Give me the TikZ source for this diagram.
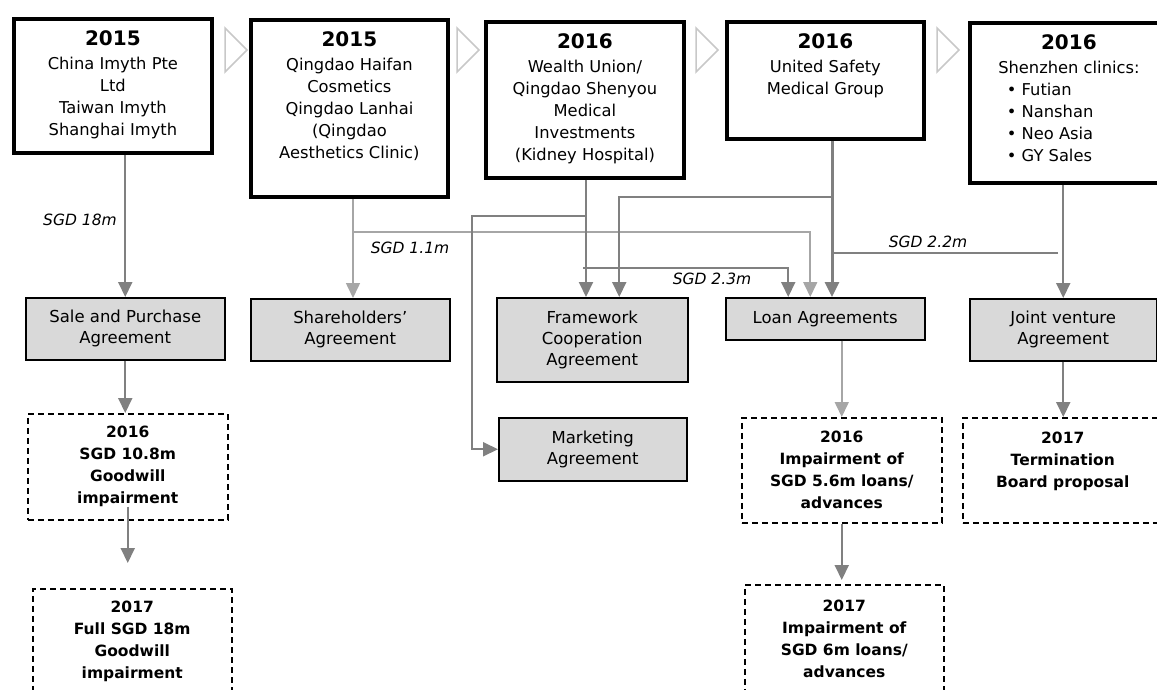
\documentclass[tikz,border=0pt]{standalone}
\usepackage{fontspec}
\setmainfont{DejaVu Sans}
\usetikzlibrary{arrows.meta,positioning}

\definecolor{linegray}{HTML}{808080}
\definecolor{lightline}{HTML}{A6A6A6}
\definecolor{chevgray}{HTML}{C8C8C8}
\definecolor{boxgray}{HTML}{D9D9D9}

\newcommand{\yr}[1]{{\fontsize{20}{24}\selectfont\bfseries #1}\\[3pt]}
\newcommand{\clinic}[1]{\makebox[124pt][l]{\textbullet\ #1}}

\begin{document}
\begin{tikzpicture}[x=1pt,y=-1pt,
  topbox/.style={draw=black,line width=3.8pt,anchor=north west,inner sep=0pt},
  toptext/.style={inner sep=0pt,align=center,font=\fontsize{16.3}{21.8}\selectfont},
  agree/.style={draw=black,line width=1.5pt,fill=boxgray,anchor=north west,
    inner sep=0pt,align=center,font=\fontsize{16.5}{21}\selectfont},
  result/.style={draw=black,line width=1.5pt,dash pattern=on 6pt off 4pt,
    anchor=north west,inner sep=0pt,align=center,
    font=\fontsize{15.5}{22}\selectfont\bfseries},
  amt/.style={font=\fontsize{15.5}{18}\selectfont\itshape},
  flow/.style={draw=linegray,line width=2pt,-{Triangle[length=15pt,width=14pt]}},
  flowlight/.style={draw=lightline,line width=1.6pt,-{Triangle[length=15pt,width=14pt]}},
  link/.style={draw=linegray,line width=2pt}]
\useasboundingbox (0,0) rectangle (1157,690);
\clip (0,0) rectangle (1157,690);

% investments
\node[topbox,minimum width=198,minimum height=134] (b1) at (12,17) {};
\node[topbox,minimum width=197,minimum height=177] (b2) at (249,18) {};
\node[topbox,minimum width=198,minimum height=156] (b3) at (484,20) {};
\node[topbox,minimum width=197,minimum height=117] (b4) at (725,20) {};
\node[topbox,minimum width=198,minimum height=160] (b5) at (968,21) {};
\node[toptext,below=13pt of b1.north] (t1) {\yr{2015}China Imyth Pte\\Ltd\\Taiwan Imyth\\Shanghai Imyth};
\node[toptext,below=13pt of b2.north] (t2) {\yr{2015}Qingdao Haifan\\Cosmetics\\Qingdao Lanhai\\(Qingdao\\Aesthetics Clinic)};
\node[toptext,below=13pt of b3.north] (t3) {\yr{2016}Wealth Union/\\Qingdao Shenyou\\Medical\\Investments\\(Kidney Hospital)};
\node[toptext,below=13pt of b4.north] (t4) {\yr{2016}United Safety\\Medical Group};
\node[toptext,below=13pt of b5.north] (t5) {\yr{2016}Shenzhen clinics:\\\clinic{Futian}\\\clinic{Nanshan}\\\clinic{Neo Asia}\\\clinic{GY Sales}};

\foreach \cx in {225,457,696,937}
  \draw[chevgray,line width=1.5pt] (\cx,28) -- (\cx+22,50) -- (\cx,72) -- cycle;

% agreements
\node[agree,minimum width=199,minimum height=62] (spa) at (25,297) {Sale and Purchase\\Agreement};
\node[agree,minimum width=199,minimum height=62] (sha) at (250,298) {Shareholders’\\Agreement};
\node[agree,minimum width=191,minimum height=84] (fca) at (496,297) {Framework\\Cooperation\\Agreement};
\node[agree,minimum width=199,minimum height=42] (loan) at (725,297) {Loan Agreements};
\node[agree,minimum width=187,minimum height=62] (jv) at (969,298) {Joint venture\\Agreement};
\node[agree,minimum width=188,minimum height=63] (mkt) at (498,417) {Marketing\\Agreement};

% impairments
\node[result,minimum width=200,minimum height=106] (d1) at (27,413) {2016\\SGD 10.8m\\Goodwill\\impairment};
\node[result,minimum width=199,minimum height=105] (d2) at (32,588) {2017\\Full SGD 18m\\Goodwill\\impairment};
\node[result,minimum width=200,minimum height=105] (d3) at (741,417) {2016\\Impairment of\\SGD 5.6m loans/\\advances};
\node[result,minimum width=200,minimum height=105] (d4) at (962,417) {2017\\Termination\\Board proposal\\\mbox{}};
\node[result,minimum width=199,minimum height=108] (d5) at (744,584) {2017\\Impairment of\\SGD 6m loans/\\advances};

% amounts
\node[amt] (a1) at (80,220) {SGD 18m};
\node[amt] (a2) at (410,248) {SGD 1.1m};
\node[amt] (a3) at (712,279) {SGD 2.3m};
\node[amt] (a4) at (928,242) {SGD 2.2m};

\coordinate (j2) at (353,232);
\coordinate (j3a) at (586,216);
\coordinate (j3b) at (583,268);
\coordinate (j4) at (832,197);
\coordinate (j5) at (1058,253);

\draw[flow] (spa.north |- b1.south) -- (spa.north);
\draw[flow] (spa.south) -- (spa.south |- d1.north);
\draw[flow,shorten <=-14pt,shorten >=25pt] (d1.south) -- (d1.south |- d2.north);

\draw[flowlight] (j2 |- b2.south) -- (j2 |- sha.north);
\draw[flowlight] (j2) -| ([xshift=-15pt]loan.north);

\draw[flow] (j3a |- b3.south) -- (j3a |- fca.north);
\draw[flow] (j3a) -- ++(-114,0) |- (mkt.west);
\draw[flow] (j3b) -| ([xshift=-37pt]loan.north);

\draw[flow,line width=3pt] (j4 |- b4.south) -- (j4 |- loan.north);
\draw[flow] (j4) -| ([xshift=27pt]fca.north);

\draw[flow] (jv.north |- b5.south) -- (jv.north);
\draw[link] (j5) -- (j5 -| j4);

\draw[flowlight] (d3.north |- loan.south) -- (d3.north);
\draw[flow,shorten >=4pt] (d3.south) -- (d3.south |- d5.north);
\draw[flow] (jv.south) -- (jv.south |- d4.north);
\end{tikzpicture}
\end{document}
